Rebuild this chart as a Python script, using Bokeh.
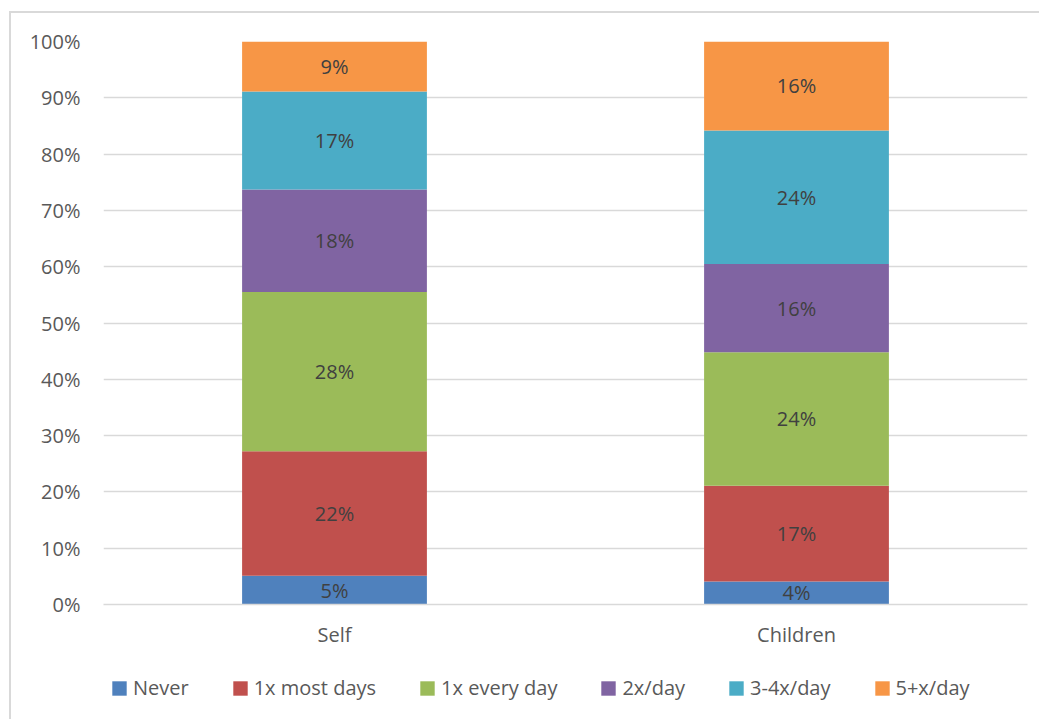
from bokeh.plotting import figure
from bokeh.layouts import column
from bokeh.models import (FactorRange, Range1d, FixedTicker, PrintfTickFormatter,
                          Legend, LegendItem, ColumnDataSource)
from bokeh.core.properties import value
from bokeh.embed import file_html
from bokeh.resources import INLINE
import numpy as np

categories = ["Self", "Children"]
series = ["Never", "1x most days", "1x every day", "2x/day", "3-4x/day", "5+x/day"]
never = [5.1, 4.1]
most_days = [22.1, 17.0]
every_day = [28.3, 23.7]
twice_day = [18.2, 15.7]
three_four_day = [17.4, 23.7]
five_plus_day = [8.9, 15.8]
colors = ["#4F81BD", "#C0504D", "#9BBB59", "#8064A2", "#4BACC6", "#F79646"]
y_ticks = [0, 10, 20, 30, 40, 50, 60, 70, 80, 90, 100]

values = [never, most_days, every_day, twice_day, three_four_day, five_plus_day]
FONT = value("Open Sans")
FS = "20px"

data = {"cat": categories}
for s, v in zip(series, values):
    data[s] = v
source = ColumnDataSource(data)

# ---- main chart ----
p = figure(x_range=FactorRange(*categories), y_range=Range1d(0, 100),
           width=1028, height=637, output_backend="svg", toolbar_location=None,
           min_border_left=92, min_border_right=12, min_border_top=28, min_border_bottom=44)
p.outline_line_color = None

p.vbar_stack(series, x="cat", width=0.4, color=colors, line_color=None, source=source)

arr = np.array(values)
cum = np.cumsum(arr, axis=0)
for i, s in enumerate(series):
    mids = cum[i] - arr[i] / 2.0
    lab = ColumnDataSource(dict(x=categories, y=list(mids),
                                t=[f"{int(round(v))}%" for v in values[i]]))
    p.text(x="x", y="y", text="t", source=lab, text_align="center",
           text_baseline="middle", text_font=FONT, text_font_size=FS,
           text_color="#404040")

p.yaxis.ticker = FixedTicker(ticks=y_ticks)
p.yaxis.formatter = PrintfTickFormatter(format="%d%%")
p.yaxis.axis_line_color = None
p.yaxis.major_tick_line_color = None
p.yaxis.minor_tick_line_color = None
p.yaxis.major_tick_out = 0
p.yaxis.major_label_standoff = 23
p.yaxis.major_label_text_font = "Open Sans"
p.yaxis.major_label_text_font_size = FS
p.yaxis.major_label_text_color = "#595959"

p.xaxis.axis_line_color = "#d9d9d9"
p.xaxis.axis_line_width = 1.5
p.xaxis.major_tick_line_color = None
p.xaxis.minor_tick_line_color = None
p.xaxis.major_tick_out = 0
p.xaxis.major_label_standoff = 16
p.xaxis.major_label_text_font = "Open Sans"
p.xaxis.major_label_text_font_size = FS
p.xaxis.major_label_text_color = "#595959"

p.xgrid.grid_line_color = None
p.ygrid.grid_line_color = "#d9d9d9"
p.ygrid.grid_line_width = 1.5

# ---- legend strip (zero-height proxy bars carry the legend swatches) ----
lg = figure(width=1028, height=69, x_range=FactorRange(*categories), y_range=Range1d(0, 1),
            output_backend="svg", toolbar_location=None,
            min_border_left=0, min_border_right=0, min_border_top=0, min_border_bottom=0)
lg.outline_line_color = None
lg.axis.visible = False
lg.grid.grid_line_color = None
proxy = ColumnDataSource(dict(cat=categories, zero=[0] * len(categories)))
items = []
for s, c in zip(series, colors):
    r = lg.vbar(x="cat", top="zero", bottom="zero", width=0.4, fill_color=c,
                line_color=None, source=proxy)
    items.append(LegendItem(label=s, renderers=[r]))
legend = Legend(items=items, orientation="horizontal", location=(7, 18), spacing=42,
                glyph_width=18, glyph_height=18, label_standoff=5, padding=0, margin=0,
                label_height=20, border_line_color=None, background_fill_alpha=0,
                label_text_font="Open Sans", label_text_font_size=FS,
                label_text_color="#595959")
lg.add_layout(legend, "center")

layout = column(p, lg, spacing=0,
                styles={"border-left": "2px solid #d9d9d9", "border-top": "2px solid #d9d9d9",
                        "margin-left": "9px", "margin-top": "11px"})

open("out.html", "w").write(file_html(layout, INLINE))
